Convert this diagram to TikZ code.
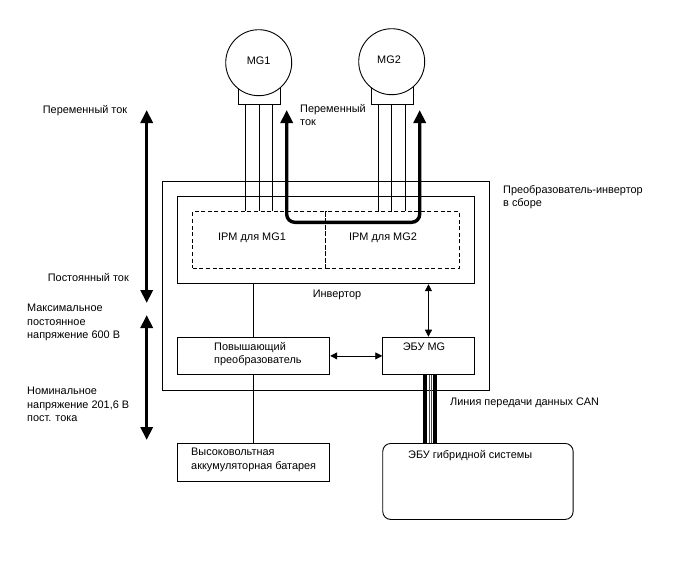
\documentclass[tikz,border=0pt]{standalone}
\usepackage{fontspec}
\setmainfont{Liberation Sans}
\usetikzlibrary{arrows.meta}

\tikzset{
  block/.style={draw, line width=0.9pt, inner sep=0pt},
  wire/.style={line width=0.8pt},
  dashbox/.style={draw, line width=0.9pt, dash pattern=on 4pt off 2.6pt},
  fatboth/.style={line width=3.4pt, {Triangle[length=13pt,width=12pt]}-{Triangle[length=13pt,width=12pt]}},
  thinboth/.style={line width=0.8pt, {Triangle[length=7pt,width=7pt]}-{Triangle[length=7pt,width=7pt]}},
  lbl/.style={inner sep=0pt, align=left, anchor=north west, font=\fontsize{10.9}{13.4}\selectfont},
  ctr/.style={inner sep=0pt, font=\fontsize{10.9}{13.4}\selectfont}
}

\begin{document}
\begin{tikzpicture}[x=1pt,y=-1pt]
\useasboundingbox (0,0) rectangle (688,560);

% двигатели
\node[block, minimum width=42pt, minimum height=18pt, anchor=south west] (plug1) at (237.7,105.3) {};
\node[block, minimum width=42pt, minimum height=18pt, anchor=south west] (plug2) at (371,105.3) {};
\node[draw, line width=0.9pt, circle, fill=white, minimum size=66pt, inner sep=0pt] (mg1) at (258.7,62.7) {};
\node[draw, line width=0.9pt, circle, fill=white, minimum size=66pt, inner sep=0pt] (mg2) at (391.7,61.7) {};
\node[ctr] (mg1txt) at (258.7,61) {MG1};
\node[ctr] (mg2txt) at (389,60) {MG2};

% преобразователь-инвертор
\node[block, minimum width=327.3pt, minimum height=209.3pt, anchor=north west] (conv) at (161.7,180.7) {};
\node[block, minimum width=296.7pt, minimum height=87pt, anchor=north west] (inv) at (177,196.3) {};
\node[dashbox, minimum width=133pt, minimum height=56.7pt, inner sep=0pt, anchor=north west] (ipm1) at (192.3,211.3) {};
\node[dashbox, minimum width=133.4pt, minimum height=56.7pt, inner sep=0pt, anchor=north west] (ipm2) at (325.3,211.3) {};
\node[ctr] (ipm1txt) at (252,238) {IPM для MG1};
\node[ctr] (ipm2txt) at (383,238) {IPM для MG2};
\node[ctr] (invtxt) at (337,294.5) {Инвертор};

% нижний ряд
\node[block, minimum width=152.3pt, minimum height=37.5pt, anchor=north west] (boost) at (177,336.7) {};
\node[lbl] at (214,342) {Повышающий\\преобразователь};
\node[block, minimum width=91.4pt, minimum height=37.5pt, anchor=north west] (ecu) at (382.3,336.7) {};
\node[ctr] (ecutxt) at (424,347) {ЭБУ MG};
\node[block, minimum width=152.3pt, minimum height=37.7pt, anchor=north west] (batt) at (177,443.3) {};
\node[lbl] at (191,448) {Высоковольтная\\аккумуляторная батарея};
\node[block, rounded corners=8pt, minimum width=190.4pt, minimum height=76pt, anchor=north west] (hv) at (382.3,443) {};
\node[ctr, anchor=west] (hvtxt) at (408,456) {ЭБУ гибридной системы};

% провода к двигателям
\foreach \i/\xx in {1/245.7,2/259,3/272.3}{
  \draw[wire] (plug1.south -| \xx,0) -- (ipm1.north -| \xx,0);
}
\foreach \i/\xx in {1/378,2/391.7,3/405.7}{
  \draw[wire] (plug2.south -| \xx,0) -- (ipm2.north -| \xx,0);
}

% силовой ток
\coordinate (acl) at (286.7,110);
\coordinate (acr) at (419.7,110);
\draw[fatboth, rounded corners=8pt] (acl) -- (286.7,222.3) -- (419.7,222.3) -- (acr);

% соединения
\draw[wire] (inv.south -| boost.north) -- (boost.north);
\draw[wire] (boost.south) -- (batt.north);
\draw[thinboth] (inv.south -| ecu.north) -- (ecu.north);
\draw[thinboth] (boost.east) -- (ecu.west);

% шина CAN
\foreach \xx in {424.7,435.3}{
  \draw[line width=3.8pt] (ecu.south -| \xx,0) -- (hv.north -| \xx,0);
}
\foreach \xx in {429.2,431.4}{
  \draw[line width=0.5pt, black!70] (ecu.south -| \xx,0) -- (hv.north -| \xx,0);
}

% стрелки слева
\coordinate (a1) at (146.7,110);
\coordinate (a2) at (146.7,303);
\coordinate (a3) at (146.7,315);
\coordinate (a4) at (146.7,440);
\draw[fatboth] (a1) -- (a2);
\draw[fatboth] (a3) -- (a4);

% подписи
\node[lbl] at (42.7,105) {Переменный ток};
\node[lbl] at (47.7,273) {Постоянный ток};
\node[lbl] at (27,304) {Максимальное\\постоянное\\напряжение 600 В};
\node[lbl] at (27,387) {Номинальное\\напряжение 201,6 В\\пост. тока};
\node[lbl] at (300,104) {Переменный\\ток};
\node[lbl] at (503,185) {Преобразователь-инвертор\\в сборе};
\node[lbl] at (450,398) {Линия передачи данных CAN};
\end{tikzpicture}
\end{document}
